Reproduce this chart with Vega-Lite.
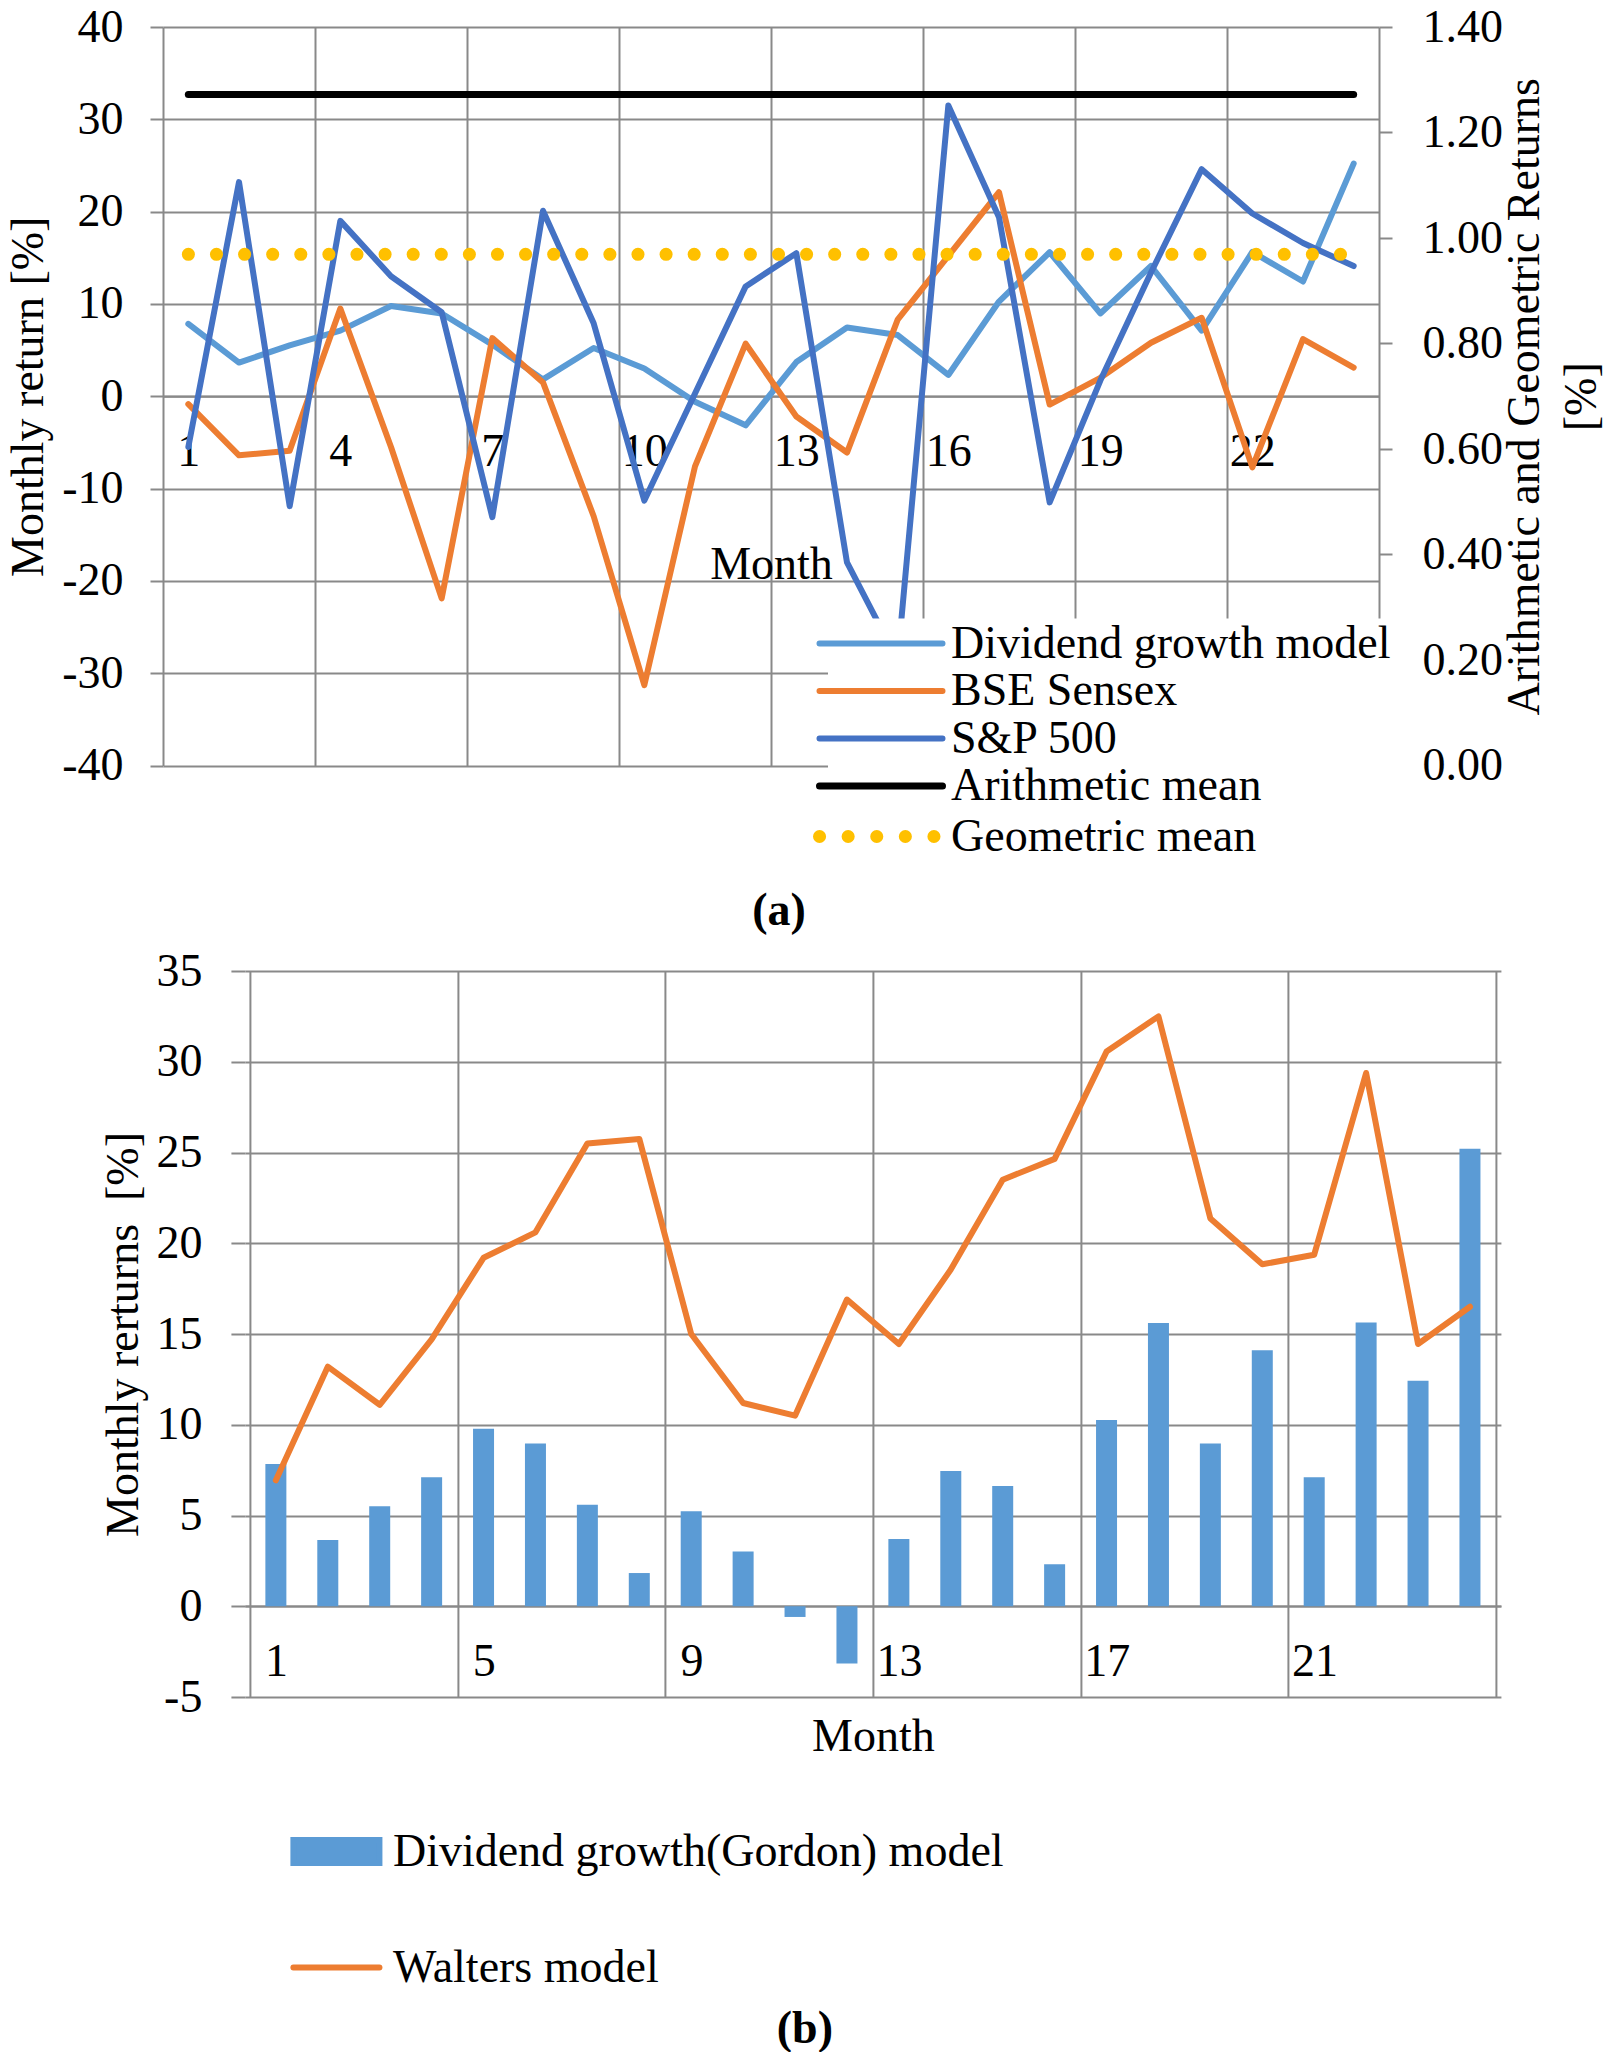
{
  "$schema": "https://vega.github.io/schema/vega-lite/v6.json",
  "background": "white",
  "padding": {"left": 5, "top": 4, "right": 0, "bottom": 0},
  "center": true,
  "spacing": 14,
  "resolve": {"scale": {"color": "independent", "x": "independent", "y": "independent"}, "legend": {"color": "independent"}},
  "datasets": {
    "a_lines": [
      {"month": 1, "series": "Dividend growth model", "value": 7.84},
      {"month": 2, "series": "Dividend growth model", "value": 3.65},
      {"month": 3, "series": "Dividend growth model", "value": 5.51},
      {"month": 4, "series": "Dividend growth model", "value": 7.11},
      {"month": 5, "series": "Dividend growth model", "value": 9.78},
      {"month": 6, "series": "Dividend growth model", "value": 8.97},
      {"month": 7, "series": "Dividend growth model", "value": 5.59},
      {"month": 8, "series": "Dividend growth model", "value": 1.83},
      {"month": 9, "series": "Dividend growth model", "value": 5.23},
      {"month": 10, "series": "Dividend growth model", "value": 3.01},
      {"month": 11, "series": "Dividend growth model", "value": -0.59},
      {"month": 12, "series": "Dividend growth model", "value": -3.15},
      {"month": 13, "series": "Dividend growth model", "value": 3.71},
      {"month": 14, "series": "Dividend growth model", "value": 7.45},
      {"month": 15, "series": "Dividend growth model", "value": 6.63},
      {"month": 16, "series": "Dividend growth model", "value": 2.31},
      {"month": 17, "series": "Dividend growth model", "value": 10.26},
      {"month": 18, "series": "Dividend growth model", "value": 15.6},
      {"month": 19, "series": "Dividend growth model", "value": 8.97},
      {"month": 20, "series": "Dividend growth model", "value": 14.11},
      {"month": 21, "series": "Dividend growth model", "value": 7.11},
      {"month": 22, "series": "Dividend growth model", "value": 15.63},
      {"month": 23, "series": "Dividend growth model", "value": 12.43},
      {"month": 24, "series": "Dividend growth model", "value": 25.2},
      {"month": 1, "series": "BSE Sensex", "value": -0.86},
      {"month": 2, "series": "BSE Sensex", "value": -6.4},
      {"month": 3, "series": "BSE Sensex", "value": -5.9},
      {"month": 4, "series": "BSE Sensex", "value": 9.5},
      {"month": 5, "series": "BSE Sensex", "value": -5.5},
      {"month": 6, "series": "BSE Sensex", "value": -21.9},
      {"month": 7, "series": "BSE Sensex", "value": 6.3},
      {"month": 8, "series": "BSE Sensex", "value": 1.5},
      {"month": 9, "series": "BSE Sensex", "value": -13.0},
      {"month": 10, "series": "BSE Sensex", "value": -31.3},
      {"month": 11, "series": "BSE Sensex", "value": -7.6},
      {"month": 12, "series": "BSE Sensex", "value": 5.7},
      {"month": 13, "series": "BSE Sensex", "value": -2.2},
      {"month": 14, "series": "BSE Sensex", "value": -6.1},
      {"month": 15, "series": "BSE Sensex", "value": 8.3},
      {"month": 16, "series": "BSE Sensex", "value": 15.2},
      {"month": 17, "series": "BSE Sensex", "value": 22.1},
      {"month": 18, "series": "BSE Sensex", "value": -0.9},
      {"month": 19, "series": "BSE Sensex", "value": 2.0},
      {"month": 20, "series": "BSE Sensex", "value": 5.8},
      {"month": 21, "series": "BSE Sensex", "value": 8.5},
      {"month": 22, "series": "BSE Sensex", "value": -7.7},
      {"month": 23, "series": "BSE Sensex", "value": 6.2},
      {"month": 24, "series": "BSE Sensex", "value": 3.1},
      {"month": 1, "series": "S&P 500", "value": -5.5},
      {"month": 2, "series": "S&P 500", "value": 23.2},
      {"month": 3, "series": "S&P 500", "value": -11.9},
      {"month": 4, "series": "S&P 500", "value": 19.0},
      {"month": 5, "series": "S&P 500", "value": 13.0},
      {"month": 6, "series": "S&P 500", "value": 9.1},
      {"month": 7, "series": "S&P 500", "value": -13.1},
      {"month": 8, "series": "S&P 500", "value": 20.1},
      {"month": 9, "series": "S&P 500", "value": 7.9},
      {"month": 10, "series": "S&P 500", "value": -11.3},
      {"month": 11, "series": "S&P 500", "value": 0.3},
      {"month": 12, "series": "S&P 500", "value": 11.9},
      {"month": 13, "series": "S&P 500", "value": 15.5},
      {"month": 14, "series": "S&P 500", "value": -18.0},
      {"month": 15, "series": "S&P 500", "value": -28.6},
      {"month": 16, "series": "S&P 500", "value": 31.5},
      {"month": 17, "series": "S&P 500", "value": 19.4},
      {"month": 18, "series": "S&P 500", "value": -11.5},
      {"month": 19, "series": "S&P 500", "value": 1.7},
      {"month": 20, "series": "S&P 500", "value": 13.4},
      {"month": 21, "series": "S&P 500", "value": 24.6},
      {"month": 22, "series": "S&P 500", "value": 19.8},
      {"month": 23, "series": "S&P 500", "value": 16.6},
      {"month": 24, "series": "S&P 500", "value": 14.1}
    ],
    "a_means": [
      {"month": 1, "series": "Arithmetic mean", "value": 1.272},
      {"month": 24, "series": "Arithmetic mean", "value": 1.272},
      {"month": 1, "series": "Geometric mean", "value": 0.969},
      {"month": 24, "series": "Geometric mean", "value": 0.969}
    ],
    "b": [
      {"month": 1, "series": "Dividend growth(Gordon) model", "value": 7.84},
      {"month": 2, "series": "Dividend growth(Gordon) model", "value": 3.65},
      {"month": 3, "series": "Dividend growth(Gordon) model", "value": 5.51},
      {"month": 4, "series": "Dividend growth(Gordon) model", "value": 7.11},
      {"month": 5, "series": "Dividend growth(Gordon) model", "value": 9.78},
      {"month": 6, "series": "Dividend growth(Gordon) model", "value": 8.97},
      {"month": 7, "series": "Dividend growth(Gordon) model", "value": 5.59},
      {"month": 8, "series": "Dividend growth(Gordon) model", "value": 1.83},
      {"month": 9, "series": "Dividend growth(Gordon) model", "value": 5.23},
      {"month": 10, "series": "Dividend growth(Gordon) model", "value": 3.01},
      {"month": 11, "series": "Dividend growth(Gordon) model", "value": -0.59},
      {"month": 12, "series": "Dividend growth(Gordon) model", "value": -3.15},
      {"month": 13, "series": "Dividend growth(Gordon) model", "value": 3.71},
      {"month": 14, "series": "Dividend growth(Gordon) model", "value": 7.45},
      {"month": 15, "series": "Dividend growth(Gordon) model", "value": 6.63},
      {"month": 16, "series": "Dividend growth(Gordon) model", "value": 2.31},
      {"month": 17, "series": "Dividend growth(Gordon) model", "value": 10.26},
      {"month": 18, "series": "Dividend growth(Gordon) model", "value": 15.6},
      {"month": 19, "series": "Dividend growth(Gordon) model", "value": 8.97},
      {"month": 20, "series": "Dividend growth(Gordon) model", "value": 14.11},
      {"month": 21, "series": "Dividend growth(Gordon) model", "value": 7.11},
      {"month": 22, "series": "Dividend growth(Gordon) model", "value": 15.63},
      {"month": 23, "series": "Dividend growth(Gordon) model", "value": 12.43},
      {"month": 24, "series": "Dividend growth(Gordon) model", "value": 25.2},
      {"month": 1, "series": "Walters model", "value": 6.94},
      {"month": 2, "series": "Walters model", "value": 13.2},
      {"month": 3, "series": "Walters model", "value": 11.1},
      {"month": 4, "series": "Walters model", "value": 14.7},
      {"month": 5, "series": "Walters model", "value": 19.2},
      {"month": 6, "series": "Walters model", "value": 20.6},
      {"month": 7, "series": "Walters model", "value": 25.5},
      {"month": 8, "series": "Walters model", "value": 25.75},
      {"month": 9, "series": "Walters model", "value": 15.0},
      {"month": 10, "series": "Walters model", "value": 11.2},
      {"month": 11, "series": "Walters model", "value": 10.5},
      {"month": 12, "series": "Walters model", "value": 16.9},
      {"month": 13, "series": "Walters model", "value": 14.45},
      {"month": 14, "series": "Walters model", "value": 18.55},
      {"month": 15, "series": "Walters model", "value": 23.5},
      {"month": 16, "series": "Walters model", "value": 24.65},
      {"month": 17, "series": "Walters model", "value": 30.56},
      {"month": 18, "series": "Walters model", "value": 32.5},
      {"month": 19, "series": "Walters model", "value": 21.37},
      {"month": 20, "series": "Walters model", "value": 18.84},
      {"month": 21, "series": "Walters model", "value": 19.37},
      {"month": 22, "series": "Walters model", "value": 29.38},
      {"month": 23, "series": "Walters model", "value": 14.45},
      {"month": 24, "series": "Walters model", "value": 16.5}
    ]
  },
  "vconcat": [
    {
      "width": 1216,
      "height": 738.5,
      "title": {"text": "(a)", "orient": "bottom", "dx": 8, "offset": 24},
      "layer": [
        {
          "data": {"name": "a_lines"},
          "mark": {"type": "line", "strokeWidth": 6, "strokeCap": "round", "strokeJoin": "round"},
          "encoding": {
            "x": {
              "field": "month", "type": "quantitative",
              "scale": {"domain": [0.5, 24.5], "nice": false, "zero": false},
              "axis": {
                "orient": "bottom", "offset": -369.25,
                "values": [0.5, 3.5, 6.5, 9.5, 12.5, 15.5, 18.5, 21.5, 24.5],
                "grid": true, "ticks": false,
                "labelExpr": "datum.value < 24 ? format(datum.value + 0.5, 'd') : ''",
                "labelOffset": 25.33, "labelFlush": false, "labelOverlap": false,
                "labelPadding": 33,
                "title": "Month", "titlePadding": 68
              }
            },
            "y": {
              "field": "value", "type": "quantitative",
              "scale": {"domain": [-40, 40], "nice": false},
              "axis": {
                "orient": "left",
                "values": [-40, -30, -20, -10, 0, 10, 20, 30, 40],
                "labelExpr": "'' + datum.value",
                "grid": true, "domain": false, "tickSize": 13, "labelPadding": 27,
                "title": "Monthly return [%]", "titlePadding": 9
              }
            },
            "color": {
              "field": "series", "type": "nominal",
              "scale": {
                "domain": ["Dividend growth model", "BSE Sensex", "S&P 500", "Arithmetic mean", "Geometric mean"],
                "range": ["#5B9BD5", "#ED7D31", "#4472C4", "#000000", "#FFC000"]
              },
              "legend": {
                "orient": "none", "legendX": 665, "legendY": 591.5,
                "direction": "vertical", "title": null,
                "symbolType": "stroke", "symbolSize": 15129, "symbolStrokeWidth": 6,
                "symbolOffset": 28, "labelOffset": 47, "rowPadding": 1.5,
                "padding": 2, "fillColor": "white", "zindex": 1,
                "encode": {
                  "symbols": {
                    "update": {
                      "strokeDash": {"signal": "datum.value === 'Geometric mean' ? [0.1, 28.5] : [1, 0]"},
                      "strokeWidth": {"signal": "datum.value === 'Geometric mean' ? 13 : datum.value === 'Arithmetic mean' ? 7 : 6"},
                      "strokeCap": {"value": "round"}
                    }
                  }
                }
              }
            }
          }
        },
        {
          "data": {"name": "a_means"},
          "layer": [
            {
              "transform": [{"filter": "datum.series === 'Arithmetic mean'"}],
              "mark": {"type": "line", "strokeWidth": 7, "strokeCap": "round"},
              "encoding": {
                "x": {"field": "month", "type": "quantitative"},
                "y": {
                  "field": "value", "type": "quantitative",
                  "scale": {"domain": [0, 1.4], "nice": false},
                  "axis": {
                    "orient": "right",
                    "values": [0, 0.2, 0.4, 0.6, 0.8, 1.0, 1.2, 1.4],
                    "format": ".2f", "grid": false, "domain": false,
                    "tickSize": 13, "labelPadding": 30,
                    "title": ["Arithmetic and Geometric Returns", "[%]"],
                    "titleAngle": -90, "titleBaseline": "middle", "titleLineHeight": 57,
                    "titleX": 145, "titleY": 369.25
                  }
                },
                "color": {"field": "series", "type": "nominal"}
              }
            },
            {
              "transform": [{"filter": "datum.series === 'Geometric mean'"}],
              "mark": {"type": "line", "strokeWidth": 13, "strokeCap": "round", "strokeDash": [0.1, 28]},
              "encoding": {
                "x": {"field": "month", "type": "quantitative"},
                "y": {"field": "value", "type": "quantitative"},
                "color": {"field": "series", "type": "nominal"}
              }
            }
          ]
        }
      ],
      "resolve": {"scale": {"y": "independent"}, "axis": {"y": "independent"}}
    },
    {
      "width": 1256,
      "height": 726,
      "title": {"text": "(b)", "orient": "bottom", "dx": -68, "offset": 16},
      "data": {"name": "b"},
      "encoding": {
        "x": {
          "field": "month", "type": "quantitative",
          "scale": {"domain": [0.5, 24.5], "nice": false, "zero": false},
          "axis": {
            "orient": "bottom", "offset": -91,
            "values": [0.5, 4.5, 8.5, 12.5, 16.5, 20.5, 24.5],
            "grid": true, "ticks": false,
            "labelExpr": "datum.value < 24 ? format(datum.value + 0.5, 'd') : ''",
            "labelOffset": 26.17, "labelFlush": false, "labelOverlap": false,
            "labelPadding": 33,
            "title": "Month", "titlePadding": 30
          }
        },
        "y": {
          "field": "value", "type": "quantitative",
          "scale": {"domain": [-5, 35], "nice": false},
          "axis": {
            "orient": "left",
            "values": [-5, 0, 5, 10, 15, 20, 25, 30, 35],
            "labelExpr": "'' + datum.value",
            "grid": true, "domain": false, "tickSize": 14, "labelPadding": 29,
            "title": "Monthly rerturns \u00a0[%]", "titlePadding": 8
          }
        },
        "color": {
          "field": "series", "type": "nominal",
          "scale": {
            "domain": ["Dividend growth(Gordon) model", "Walters model"],
            "range": ["#5B9BD5", "#ED7D31"]
          },
          "legend": {
            "orient": "none", "legendX": 45, "legendY": 834,
            "direction": "vertical", "title": null,
            "symbolSize": 7400, "symbolStrokeWidth": 6,
            "labelOffset": 10, "rowPadding": 45, "padding": 0,
            "encode": {
              "symbols": {
                "update": {
                  "shape": {"signal": "datum.value === 'Walters model' ? 'stroke' : 'M-1,-0.27H1V0.27H-1Z'"},
                  "fill": {"signal": "datum.value === 'Walters model' ? 'transparent' : '#5B9BD5'"},
                  "stroke": {"signal": "datum.value === 'Walters model' ? '#ED7D31' : 'transparent'"},
                  "strokeWidth": {"value": 6},
                  "strokeCap": {"value": "round"},
                  "opacity": {"value": 1}
                }
              }
            }
          }
        }
      },
      "layer": [
        {
          "transform": [{"filter": "datum.series === 'Dividend growth(Gordon) model'"}],
          "mark": {"type": "bar", "size": 21}
        },
        {
          "transform": [{"filter": "datum.series === 'Walters model'"}],
          "mark": {"type": "line", "strokeWidth": 6, "strokeCap": "round", "strokeJoin": "round"}
        }
      ]
    }
  ],
  "config": {
    "font": "Liberation Serif",
    "view": {"stroke": null},
    "axis": {
      "labelFont": "Liberation Serif", "labelFontSize": 46, "labelColor": "#000000",
      "titleFont": "Liberation Serif", "titleFontSize": 46, "titleFontWeight": "normal", "titleColor": "#000000",
      "gridColor": "#898989", "gridWidth": 2, "gridOpacity": 1,
      "tickColor": "#898989", "tickWidth": 2,
      "domainColor": "#898989", "domainWidth": 2
    },
    "legend": {
      "labelFont": "Liberation Serif", "labelFontSize": 46, "labelColor": "#000000", "labelLimit": 0
    },
    "title": {"font": "Liberation Serif", "fontSize": 46, "fontWeight": "bold", "color": "#000000"}
  }
}
